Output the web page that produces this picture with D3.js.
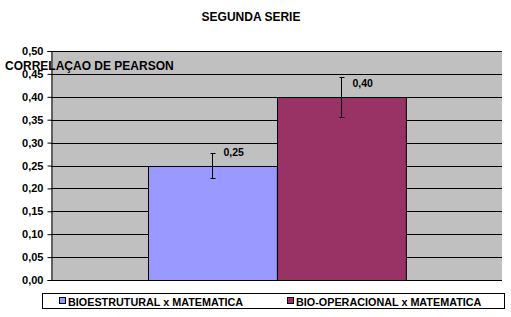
<html lang="en">
<head>
  <meta http-equiv="Content-Type" content="text/html; charset=utf-8" />
  <script src="https://cdnjs.cloudflare.com/ajax/libs/d3/7.8.5/d3.min.js"></script>
  <style>
    body { margin: 0; background: #fff; }
  </style>
</head>
<body>
  <div id="divId"></div>
  <script>
    'use strict';
    const categories = ["SEGUNDA SERIE"];
    const seriesNames = ["BIOESTRUTURAL x MATEMATICA", "BIO-OPERACIONAL x MATEMATICA"];
    const seriesValues = [0.25, 0.40];
    const seriesErrors = [0.027, 0.044];
    const seriesLabels = ["0,25", "0,40"];
    const yTicks = [0, 0.05, 0.10, 0.15, 0.20, 0.25, 0.30, 0.35, 0.40, 0.45, 0.50];
    const colors = ["#9999ff", "#993366"];

    const width = 511, height = 317;
    const fontFamily = "Liberation Sans, Arial, sans-serif";
    const plot = {left: 51, right: 502, top: 51, bottom: 280};

    const svg = d3.select("#divId").append("svg")
      .attr("width", width).attr("height", height)
      .style("font-family", fontFamily);

    // title
    svg.append("text")
      .attr("x", 251).attr("y", 21)
      .attr("text-anchor", "middle")
      .style("font-size", "12px").style("font-weight", "bold")
      .text(categories[0]);

    const y = d3.scaleLinear().domain([0, 0.5]).range([plot.bottom, plot.top]);
    const x0 = d3.scaleBand().domain(categories).range([plot.left, plot.right]).paddingInner(0).paddingOuter(0);
    const groupW = x0.bandwidth() / 1.75;
    const x1 = d3.scaleBand().domain(seriesNames)
      .range([x0(categories[0]) + (x0.bandwidth() - groupW) / 2, x0(categories[0]) + (x0.bandwidth() + groupW) / 2]);

    // plot background
    svg.append("rect")
      .attr("x", plot.left).attr("y", plot.top)
      .attr("width", plot.right - plot.left).attr("height", plot.bottom - plot.top)
      .attr("fill", "#c0c0c0");

    // gridlines
    svg.append("g").selectAll("line").data(yTicks.slice(1)).join("line")
      .attr("x1", plot.left).attr("x2", plot.right)
      .attr("y1", d => Math.round(y(d)) + 0.5).attr("y2", d => Math.round(y(d)) + 0.5)
      .attr("stroke", "#000").attr("stroke-width", 1);

    // y axis
    const yAxis = svg.append("g")
      .attr("transform", `translate(${plot.left + 0.5},0)`)
      .call(d3.axisLeft(y).tickValues(yTicks).tickSize(4).tickPadding(4)
        .tickFormat(d => d3.format(".2f")(d).replace(".", ",")));
    yAxis.select(".domain").attr("stroke", "#000");
    yAxis.selectAll("text").style("font-size", "11px").style("font-weight", "bold").style("font-family", fontFamily);

    // bars
    svg.append("g").selectAll("rect").data(seriesValues).join("rect")
      .attr("x", (d, i) => Math.round(x1(seriesNames[i])) + 0.5)
      .attr("y", d => Math.round(y(d)) + 0.5)
      .attr("width", x1.bandwidth())
      .attr("height", d => plot.bottom - Math.round(y(d)))
      .attr("fill", (d, i) => colors[i])
      .attr("stroke", "#000");

    // x axis baseline
    svg.append("line")
      .attr("x1", plot.left).attr("x2", plot.right)
      .attr("y1", plot.bottom + 0.5).attr("y2", plot.bottom + 0.5)
      .attr("stroke", "#000");

    // error bars
    const eb = svg.append("g");
    seriesValues.forEach((v, i) => {
      const cx = Math.round(x1(seriesNames[i]) + x1.bandwidth() / 2) + 0.5;
      const yt = Math.round(y(v + seriesErrors[i])) + 0.5;
      const yb = Math.round(y(v - seriesErrors[i])) + 0.5;
      eb.append("line").attr("x1", cx).attr("x2", cx).attr("y1", yt).attr("y2", yb).attr("stroke", "#000");
      eb.append("line").attr("x1", cx - 2).attr("x2", cx + 3).attr("y1", yt).attr("y2", yt).attr("stroke", "#000");
      eb.append("line").attr("x1", cx - 2).attr("x2", cx + 3).attr("y1", yb).attr("y2", yb).attr("stroke", "#000");
      svg.append("text")
        .attr("x", cx + 11).attr("y", y(v) - 10)
        .style("font-size", "10.5px").style("font-weight", "bold")
        .text(seriesLabels[i]);
    });

    // y label
    svg.append("text")
      .attr("x", 5).attr("y", 70)
      .style("font-size", "12px").style("font-weight", "bold")
      .text("CORRELAÇAO DE PEARSON");

    // legend
    svg.append("rect")
      .attr("x", 42.5).attr("y", 293.5).attr("width", 462).attr("height", 15)
      .attr("fill", "#fff").attr("stroke", "#000");
    const legendX = [59, 287];
    seriesNames.forEach((n, i) => {
      svg.append("rect")
        .attr("x", legendX[i] + 0.5).attr("y", 297.5).attr("width", 6).attr("height", 6)
        .attr("fill", colors[i]).attr("stroke", "#000");
      svg.append("text")
        .attr("x", legendX[i] + 9).attr("y", 305.5)
        .style("font-size", "10.8px").style("font-weight", "bold")
        .text(n);
    });
  </script>
</body>
</html>
